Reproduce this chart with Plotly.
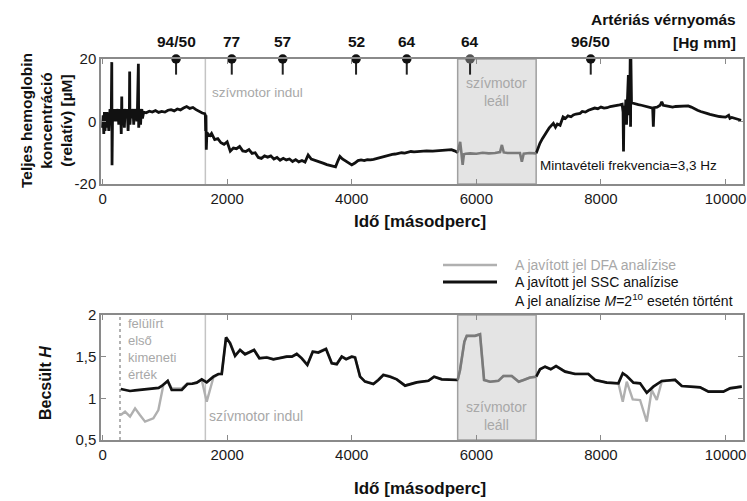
import plotly.graph_objects as go

# ---------------- data ----------------
# Top panel: total hemoglobin concentration (relative, µM) vs time (s)
hb_t = [0, 10, 20, 30, 40, 50, 60, 70, 80, 90, 100, 110, 120, 130, 140, 148, 152, 160, 170, 180,
        190, 200, 210, 220, 230, 240, 250, 260, 270, 280, 290, 300, 308, 312, 320, 330, 340, 350, 360, 370,
        380, 390, 400, 410, 420, 430, 435, 440, 450, 460, 470, 480, 490, 500, 510, 520, 530, 540, 550, 560,
        575, 580, 585, 590, 600, 610, 620, 630, 640, 650, 660,
        700, 750, 800, 850, 900, 950, 1000, 1050, 1100, 1150, 1200, 1250, 1300, 1350, 1400, 1450, 1500,
        1550, 1600, 1640, 1650, 1655, 1660, 1665, 1675, 1700, 1725, 1750, 1800, 1850, 1900, 1950, 2000,
        2050, 2100, 2150, 2200, 2250, 2300, 2350, 2400, 2450, 2500, 2550, 2600, 2650, 2700, 2750, 2800,
        2850, 2900, 2950, 3000, 3050, 3100, 3150, 3200, 3250, 3300, 3350, 3400, 3450, 3500, 3550, 3600,
        3650, 3700, 3740, 3780, 3810, 3850, 3900, 3950, 4000, 4050, 4100, 4150, 4200, 4250, 4300, 4350,
        4400, 4450, 4500, 4550, 4600, 4650, 4700, 4750, 4800, 4850, 4900, 4950, 5000, 5100, 5200, 5300,
        5400, 5500, 5600, 5650, 5700,
        5720, 5740, 5760, 5780, 5800, 5830, 5900, 6000, 6100, 6200, 6300, 6380, 6410, 6440, 6500, 6600,
        6700, 6730, 6760, 6850, 6960,
        6990, 7020, 7060, 7100, 7130, 7170, 7200, 7236, 7270, 7300, 7344, 7392, 7430, 7470, 7520, 7557,
        7600, 7665, 7700, 7750, 7800, 7850, 7900, 7950, 8000, 8050, 8100, 8150, 8200, 8250, 8300, 8340,
        8355, 8362, 8370, 8385, 8400, 8410, 8425, 8440, 8450, 8460, 8470, 8475, 8480, 8490, 8520, 8560,
        8600, 8650, 8700, 8750, 8800, 8830, 8841, 8852, 8900, 8950, 8976, 9000, 9050, 9100, 9150, 9200,
        9250, 9300, 9350, 9400, 9450, 9500, 9550, 9600, 9650, 9700, 9750, 9800, 9850, 9900, 9950, 10000,
        10050, 10070, 10100, 10150, 10200, 10250]
hb_v = [-2, 2, -4, 3, -3, 1, -1, 3, -2, 1, -3, 2, 4, 0, 3, 19, -14, 2, 4, 0,
        3, 1, 4, 0, 4, 2, 3, -1, 4, 1, 4, -4, 8, 0, 3, 4, 1, -2, 3, 4,
        1, 4, 2, -3, 3, 2, 16, -1, 3, 4, 1, 3, 4, -1, 4, 3, 1, 4, 0, 4,
        18.5, -2, 17.5, 1, 4, -1, 3, 4, 1, 3, 3,
        2.8, 3.3, 3.0, 3.5, 2.9, 3.2, 3.0, 3.6, 3.8, 3.4, 4.0, 3.7, 4.3, 4.8, 4.2, 4.5, 3.8,
        3.2, 2.7, 2.5, 2.0, -3, 2, -9, -3.5, -4.2, -4.5, -3.8, -5.8, -5.5, -6.8, -7.3, -6.5,
        -9.5, -8.5, -8.7, -8.0, -9.4, -9.6, -9.0, -10.2, -10.0, -11.5, -11.8, -11.0, -11.4, -11.0, -12.0, -11.5,
        -12.4, -11.8, -12.3, -12.0, -12.8, -12.2, -12.9, -12.5, -13.0, -10.7, -12.0, -12.3, -12.6, -12.9, -13.4, -13.8,
        -14.0, -14.3, -14.5, -12.5, -11.2, -12.0, -12.6, -13.3, -13.9, -13.3, -12.5, -12.3, -12.5, -12.2, -12.3, -12.1,
        -11.8, -11.5, -11.3, -11.0, -10.8, -10.5, -10.4, -10.2, -10.0, -10.1, -9.8, -9.6, -9.7, -9.5, -9.4, -9.5,
        -9.3, -9.2, -9.0, -9.4, -9.9,
        -8.0, -6.5, -10.0, -13.9, -10.5, -10.3, -10.2, -10.3, -10.0, -10.2, -10.1, -9.8, -7.5, -9.9, -10.1, -10.2,
        -10.1, -12.9, -10.3, -10.1, -10.2,
        -8.5, -7.0, -5.5, -4.0, -3.3, -2.0, -1.2, -0.6, -1.8, -0.8, -1.2, 1.5, 1.0, 1.8, 1.5, 2.1,
        2.4, 2.6, 3.2, 3.0, 3.6, 3.9, 4.3, 4.1, 4.6, 4.3, 4.4, 4.8, 4.9, 5.0, 5.3, 5.5,
        3.0, -9.6, 5.0, 1.0, 7.0, -1.0, 5.5, 14.9, 5.0, 2.0, 21, -1.7, 21, 6.0, 5.8, 5.5,
        5.4, 5.2, 5.0, 4.8, 4.5, 4.3, -1.7, 4.4, 4.6, 5.2, 6.3, 5.2, 5.0, 4.8, 4.6, 4.8,
        4.9, 5.0, 5.1, 5.0, 4.6, 4.0, 3.6, 3.2, 2.8, 2.6, 2.3, 2.0, 1.8, 1.6, 1.5, 1.4,
        2.0, 1.0, 1.3, 1.0, 0.7, 0.4]

# Bottom panel: estimated Hurst exponent
ssc_t = [292, 360, 441, 520, 602, 700, 815, 900, 950, 1046, 1110, 1190, 1271, 1361, 1440, 1512, 1592,
         1672, 1779, 1859, 1913, 1982, 2047, 2127, 2207, 2287, 2360, 2432, 2517, 2636, 2742, 2849, 2957,
         3040, 3117, 3197, 3287, 3374, 3464, 3587, 3679, 3759, 3839, 3909, 4000, 4053, 4133, 4213, 4347,
         4427, 4507, 4615, 4722, 4856, 4936, 5043, 5230, 5322, 5444, 5700,
         5738, 5808, 5846, 5979, 6059, 6124, 6220, 6353, 6434, 6568, 6680, 6760, 6862, 6960,
         7022, 7103, 7194, 7279, 7424, 7584, 7798, 7905, 8093, 8280, 8350, 8414, 8521, 8628, 8735, 8841,
         8976, 9190, 9297, 9591, 9725, 9965, 10072, 10260]
ssc_v = [1.112, 1.10, 1.088, 1.095, 1.10, 1.105, 1.112, 1.125, 1.148, 1.208, 1.10, 1.10, 1.10, 1.172, 1.175, 1.188, 1.228,
         1.192, 1.26, 1.292, 1.292, 1.732, 1.66, 1.508, 1.58, 1.528, 1.55, 1.58, 1.48, 1.49, 1.468, 1.48, 1.50,
         1.50, 1.532, 1.48, 1.40, 1.56, 1.55, 1.592, 1.42, 1.41, 1.50, 1.47, 1.50, 1.49, 1.26, 1.20, 1.172,
         1.22, 1.28, 1.26, 1.228, 1.152, 1.172, 1.192, 1.21, 1.26, 1.228, 1.22,
         1.34, 1.68, 1.75, 1.75, 1.77, 1.22, 1.20, 1.21, 1.268, 1.268, 1.20, 1.22, 1.25, 1.26,
         1.348, 1.38, 1.348, 1.388, 1.32, 1.292, 1.292, 1.22, 1.188, 1.18, 1.30, 1.268, 1.188, 1.18, 1.068, 1.14,
         1.208, 1.22, 1.148, 1.132, 1.08, 1.08, 1.12, 1.14]

dfa_t = [292, 361, 441, 522, 600, 682, 815, 896, 976, 1046, 1110, 1190, 1271, 1361, 1440, 1512, 1592,
         1672, 1752, 1779, 1859, 1913, 1982, 2047, 2127, 2207, 2287, 2360, 2432, 2517, 2636, 2742, 2849,
         2957, 3040, 3117, 3197, 3287, 3374, 3464, 3587, 3679, 3759, 3839, 3909, 4000, 4053, 4133, 4213,
         4347, 4427, 4507, 4615, 4722, 4856, 4936, 5043, 5230, 5322, 5444, 5700,
         5738, 5808, 5846, 5979, 6059, 6124, 6220, 6353, 6434, 6568, 6680, 6760, 6862, 6960,
         7022, 7103, 7194, 7279, 7424, 7584, 7798, 7905, 8093, 8280, 8350, 8414, 8510, 8628, 8735, 8815,
         8896, 8976, 9190, 9297, 9591, 9725, 9965, 10072, 10260]
dfa_v = [0.80, 0.84, 0.78, 0.88, 0.80, 0.72, 0.76, 0.86, 1.16, 1.21, 1.12, 1.12, 1.12, 1.18, 1.18, 1.19, 1.22,
         0.96, 1.19, 1.25, 1.29, 1.29, 1.72, 1.67, 1.52, 1.58, 1.535, 1.555, 1.585, 1.485, 1.495, 1.47, 1.485,
         1.505, 1.505, 1.535, 1.485, 1.405, 1.565, 1.555, 1.60, 1.425, 1.415, 1.505, 1.475, 1.505, 1.495, 1.265, 1.205,
         1.175, 1.225, 1.285, 1.265, 1.23, 1.155, 1.175, 1.195, 1.21, 1.26, 1.23, 1.22,
         1.34, 1.68, 1.75, 1.75, 1.77, 1.22, 1.20, 1.21, 1.268, 1.268, 1.20, 1.22, 1.25, 1.26,
         1.35, 1.38, 1.35, 1.39, 1.325, 1.295, 1.295, 1.225, 1.19, 1.18, 0.96, 1.20, 0.988, 0.98, 0.72, 1.10,
         0.98, 1.20, 1.225, 1.15, 1.135, 1.085, 1.085, 1.125, 1.145]

# Arterial blood pressure readings
bp_t = [1180, 2074, 2892, 4069, 4883, 5899, 7836]
bp_labels = ["94/50", "77", "57", "52", "64", "64", "96/50"]

motor_start = 1650          # "szívmotor indul"
motor_stop = [5700, 6960]   # "szívmotor leáll" interval
first_output = 280          # "felülírt első kimeneti érték"

x_ticks = [0, 2000, 4000, 6000, 8000, 10000]
x_ticktext = ["0", "2000", "4000", "6000", "8000", "10000"]
y1_ticks = [-20, 0, 20]
y1_ticktext = ["-20", "0", "20"]
y2_ticks = [0.5, 1, 1.5, 2]
y2_ticktext = ["0,5", "1", "1,5", "2"]

# ---------------- figure ----------------
W, H = 747, 501
FONT = "Liberation Sans, Arial, sans-serif"
BLACK = "#111111"
MOTOR_GRAY = "#7a7a7a"
DFA_GRAY = "#b0b0b0"
LABEL_GRAY = "#a8a8a8"

fig = go.Figure()


def split(ts, vs, lo, hi, inside):
    xs, ys = [], []
    for t, v in zip(ts, vs):
        ok = (lo <= t <= hi) if inside else not (lo < t < hi)
        if ok:
            xs.append(t)
            ys.append(v)
        else:
            if xs and xs[-1] is not None:
                xs.append(None)
                ys.append(None)
    return xs, ys


def paper_text(xpx, ypx, text, size, color="#111111", xanchor="center", angle=0, align="center"):
    fig.add_annotation(xref="paper", yref="paper", x=xpx / W, y=1 - ypx / H, xanchor=xanchor,
                       yanchor="middle", textangle=angle, showarrow=False, align=align, text=text,
                       font=dict(size=size, family=FONT, color=color))


# top panel traces
bx, by = split(hb_t, hb_v, motor_stop[0], motor_stop[1], False)
fig.add_trace(go.Scatter(x=bx, y=by, mode="lines", line=dict(color=BLACK, width=2.8),
                         xaxis="x", yaxis="y", showlegend=False, connectgaps=False))
gx, gy = split(hb_t, hb_v, motor_stop[0], motor_stop[1], True)
fig.add_trace(go.Scatter(x=gx, y=gy, mode="lines", line=dict(color=MOTOR_GRAY, width=2.6),
                         xaxis="x", yaxis="y", showlegend=False))

# blood pressure stems + markers
stem_x, stem_y = [], []
for t in bp_t:
    stem_x += [t, t, None]
    stem_y += [20, 15, None]
fig.add_trace(go.Scatter(x=stem_x, y=stem_y, mode="lines", line=dict(color="#222222", width=2),
                         xaxis="x", yaxis="y", showlegend=False))
marker_colors = ["#555555" if motor_stop[0] <= t <= motor_stop[1] else "#111111" for t in bp_t]
fig.add_trace(go.Scatter(x=bp_t, y=[20] * len(bp_t), mode="markers",
                         marker=dict(color=marker_colors, size=9.5), cliponaxis=False,
                         xaxis="x", yaxis="y", showlegend=False))
for t, lab in zip(bp_t, bp_labels):
    fig.add_annotation(x=t, y=20, xref="x", yref="y", text="<b>%s</b>" % lab, showarrow=False,
                       xanchor="center", yanchor="bottom", yshift=7,
                       font=dict(size=15.5, color="#111111", family=FONT))

# bottom panel traces
fig.add_trace(go.Scatter(x=dfa_t, y=dfa_v, mode="lines", line=dict(color=DFA_GRAY, width=2.4),
                         xaxis="x2", yaxis="y2", showlegend=False))
sx, sy = split(ssc_t, ssc_v, motor_stop[0], motor_stop[1], False)
fig.add_trace(go.Scatter(x=sx, y=sy, mode="lines", line=dict(color=BLACK, width=2.7),
                         xaxis="x2", yaxis="y2", showlegend=False))
sgx, sgy = split(ssc_t, ssc_v, motor_stop[0], motor_stop[1], True)
fig.add_trace(go.Scatter(x=sgx, y=sgy, mode="lines", line=dict(color=MOTOR_GRAY, width=2.6),
                         xaxis="x2", yaxis="y2", showlegend=False))

# shapes: shaded region and vertical lines
for xr_, yr_ in (("x", "y"), ("x2", "y2")):
    fig.add_shape(type="rect", xref=xr_, yref=yr_ + " domain", x0=motor_stop[0], x1=motor_stop[1],
                  y0=0, y1=1, fillcolor="#e4e4e4", line=dict(color="#a0a0a0", width=1.5), layer="below")
    fig.add_shape(type="line", xref=xr_, yref=yr_ + " domain", x0=motor_start, x1=motor_start,
                  y0=0, y1=1, line=dict(color="#c4c4c4", width=1.5), layer="below")
fig.add_shape(type="line", xref="x2", yref="y2 domain", x0=first_output, x1=first_output, y0=0, y1=1,
              line=dict(color="#999999", width=1.5, dash="dot"), layer="below")

# axes
x_dom = [101 / W, 743 / W]
y1_dom = [1 - 184 / H, 1 - 59 / H]
y2_dom = [1 - 440 / H, 1 - 315 / H]
axis_common = dict(showline=True, linecolor="#8a8a8a", linewidth=1.5, mirror="ticks", ticks="inside",
                   ticklen=5, tickcolor="#8a8a8a", tickwidth=1.2, showgrid=False, zeroline=False,
                   automargin=False,
                   tickfont=dict(size=15, color="#1a1a1a", family=FONT))
xr = [-25, 10280]
fig.update_layout(
    xaxis=dict(domain=x_dom, range=xr, anchor="y", tickvals=x_ticks, ticktext=x_ticktext, **axis_common),
    yaxis=dict(domain=y1_dom, range=[-20, 20], anchor="x", tickvals=y1_ticks, ticktext=y1_ticktext, **axis_common),
    xaxis2=dict(domain=x_dom, range=xr, anchor="y2", tickvals=x_ticks, ticktext=x_ticktext, **axis_common),
    yaxis2=dict(domain=y2_dom, range=[0.5, 2], anchor="x2", tickvals=y2_ticks, ticktext=y2_ticktext, **axis_common),
    width=W, height=H, margin=dict(l=0, r=0, t=0, b=0, pad=0, autoexpand=False),
    paper_bgcolor="white", plot_bgcolor="white",
    font=dict(family=FONT, color="#111111"),
)

# axis titles
paper_text(47, 121, "<b>Teljes hemoglobin<br>koncentráció<br>(relatív) [µM]</b>", 15.5, angle=-90)
paper_text(45, 383, "<b>Becsült <i>H</i></b>", 16, angle=-90)
paper_text(420, 221, "<b>Idő [másodperc]</b>", 17)
paper_text(420, 488, "<b>Idő [másodperc]</b>", 17)

# blood pressure header
paper_text(738, 20, "<b>Artériás vérnyomás</b>", 15.5, xanchor="right")
paper_text(738, 42, "<b>[Hg mm]</b>", 15.5, xanchor="right")

# in-plot labels
fig.add_annotation(x=motor_start, y=9.2, xref="x", yref="y", xanchor="left", yanchor="middle", xshift=5,
                   showarrow=False, text="szívmotor indul",
                   font=dict(size=13.5, family=FONT, color=LABEL_GRAY))
fig.add_annotation(x=sum(motor_stop) / 2, y=9.6, xref="x", yref="y", xanchor="center", yanchor="middle",
                   showarrow=False, text="szívmotor<br>leáll",
                   font=dict(size=14, family=FONT, color=LABEL_GRAY))
fig.add_annotation(x=motor_stop[1], y=-14.1, xref="x", yref="y", xanchor="left", yanchor="middle", xshift=2,
                   showarrow=False, text="Mintavételi frekvencia=3,3 Hz",
                   font=dict(size=13.5, family=FONT, color="#111111"))
fig.add_annotation(x=first_output, y=1.592, xref="x2", yref="y2", xanchor="left", yanchor="middle", xshift=6,
                   showarrow=False, align="left", text="felülírt<br>első<br>kimeneti<br>érték",
                   font=dict(size=13, family=FONT, color=LABEL_GRAY))
fig.add_annotation(x=motor_start, y=0.79, xref="x2", yref="y2", xanchor="left", yanchor="middle", xshift=2,
                   showarrow=False, text="szívmotor indul",
                   font=dict(size=14, family=FONT, color=LABEL_GRAY))
fig.add_annotation(x=sum(motor_stop) / 2, y=0.79, xref="x2", yref="y2", xanchor="center", yanchor="middle",
                   showarrow=False, text="szívmotor<br>leáll",
                   font=dict(size=14, family=FONT, color=LABEL_GRAY))

# legend (manual)
fig.add_shape(type="line", xref="paper", yref="paper", x0=443 / W, x1=497 / W, y0=1 - 265 / H, y1=1 - 265 / H,
              line=dict(color=DFA_GRAY, width=2.5))
fig.add_shape(type="line", xref="paper", yref="paper", x0=443 / W, x1=497 / W, y0=1 - 282 / H, y1=1 - 282 / H,
              line=dict(color=BLACK, width=3))
paper_text(513, 265, "A javított jel DFA analízise", 14, color=LABEL_GRAY, xanchor="left")
paper_text(513, 282, "A javított jel SSC analízise", 14, xanchor="left")
paper_text(513, 300, "A jel analízise <i>M</i>=2<sup>10</sup> esetén történt", 14, xanchor="left")

fig.write_html("out.html")
